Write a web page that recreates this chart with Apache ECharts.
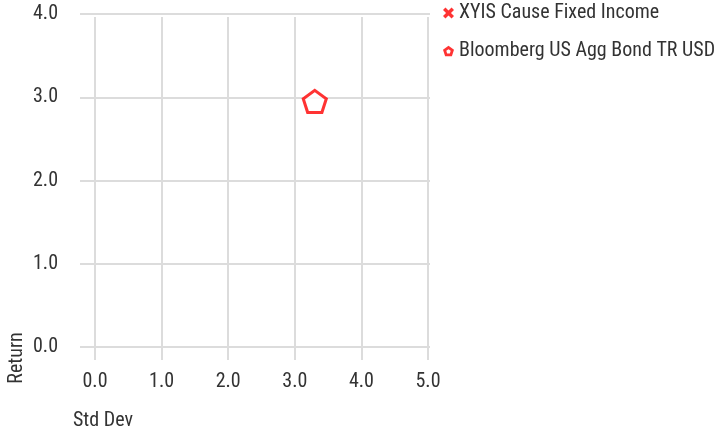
<!DOCTYPE html>
<html>
<head>
<meta charset="utf-8">
<script src="https://cdn.jsdelivr.net/npm/echarts@6/dist/echarts.min.js"></script>
<style>
  html, body { margin: 0; padding: 0; background: #fff; }
  #chart { width: 719px; height: 433px; }
</style>
</head>
<body>
<div id="chart"></div>
<script>
// series names and points [std dev, return]
const seriesNames = ['XYIS Cause Fixed Income', 'Bloomberg US Agg Bond TR USD']
const fundPoints = []
const benchPoints = [[3.30, 2.95]]
const xRange = [0, 5]
const yRange = [0, 4]

const FONT = "'Liberation Sans Narrow', 'Roboto Condensed', 'DejaVu Sans Condensed', sans-serif"
const RED = '#ff0000'
const GRID_COLOR = '#dcdcdc'
const crossPath = 'path://M-1,-0.55 L-0.55,-1 L0,-0.45 L0.55,-1 L1,-0.55 L0.45,0 L1,0.55 L0.55,1 L0,0.45 L-0.55,1 L-1,0.55 L-0.45,0 Z'
const pentagonPath = 'path://M0,-1 L0.951,-0.309 L0.588,0.809 L-0.588,0.809 L-0.951,-0.309 Z'
// thick ring pentagon for the small legend icon (inner path reversed = hole)
const pentagonRing = 'path://M0,-1 L0.951,-0.309 L0.588,0.809 L-0.588,0.809 L-0.951,-0.309 Z ' +
    'M0,-0.4 L-0.38,-0.124 L-0.235,0.324 L0.235,0.324 L0.38,-0.124 Z'

const chart = echarts.init(document.getElementById('chart'))

const labelStyle = { color: '#333', fontSize: 20, fontFamily: FONT }

let option = {
    animation: false,
    textStyle: { fontFamily: FONT },
    grid: [
        // horizontal lines + y labels
        { left: 80, top: 14, width: 350, height: 333 },
        // vertical lines + x labels
        { left: 95, top: 17, width: 333, height: 343 },
        // data
        { left: 95, top: 14, width: 333, height: 333 }
    ],
    xAxis: [
        { gridIndex: 0, type: 'value', show: false, min: 0, max: 1 },
        {
            gridIndex: 1, type: 'value', min: xRange[0], max: xRange[1], interval: 1,
            axisLine: { show: false }, axisTick: { show: false },
            axisLabel: Object.assign({ margin: 12, formatter: v => v.toFixed(1) }, labelStyle),
            splitLine: { show: true, lineStyle: { color: GRID_COLOR, width: 2 } }
        },
        { gridIndex: 2, type: 'value', show: false, min: xRange[0], max: xRange[1] }
    ],
    yAxis: [
        {
            gridIndex: 0, type: 'value', min: yRange[0], max: yRange[1], interval: 1,
            axisLine: { show: false }, axisTick: { show: false },
            axisLabel: Object.assign({ margin: 22, formatter: v => v.toFixed(1) }, labelStyle),
            splitLine: { show: true, lineStyle: { color: GRID_COLOR, width: 2 } }
        },
        { gridIndex: 1, type: 'value', show: false, min: 0, max: 1 },
        { gridIndex: 2, type: 'value', show: false, min: yRange[0], max: yRange[1] }
    ],
    legend: {
        orient: 'vertical',
        left: 443,
        top: 3,
        padding: 0,
        itemWidth: 11,
        itemHeight: 11,
        itemGap: 18,
        textStyle: { color: '#333', fontSize: 20, fontFamily: FONT },
        data: [
            { name: seriesNames[0], icon: crossPath, itemStyle: { color: RED, borderWidth: 0 } },
            { name: seriesNames[1], icon: pentagonRing, itemStyle: { color: RED, borderWidth: 0 } }
        ]
    },
    graphic: [
        {
            type: 'text', left: 73, top: 411,
            style: { text: 'Std Dev', fill: '#333', font: '20px ' + FONT }
        },
        {
            type: 'text', x: 17, y: 358, rotation: Math.PI / 2,
            style: { text: 'Return', fill: '#333', font: '20px ' + FONT, align: 'center', verticalAlign: 'middle' }
        }
    ],
    series: [
        {
            name: seriesNames[0], type: 'scatter', xAxisIndex: 2, yAxisIndex: 2,
            symbol: crossPath, symbolSize: 14,
            itemStyle: { color: RED },
            data: fundPoints
        },
        {
            name: seriesNames[1], type: 'scatter', xAxisIndex: 2, yAxisIndex: 2,
            symbol: pentagonPath, symbolSize: [23, 22],
            itemStyle: { color: '#fff', borderColor: RED, borderWidth: 3 },
            data: benchPoints
        }
    ]
}

chart.setOption(option)
</script>
</body>
</html>
